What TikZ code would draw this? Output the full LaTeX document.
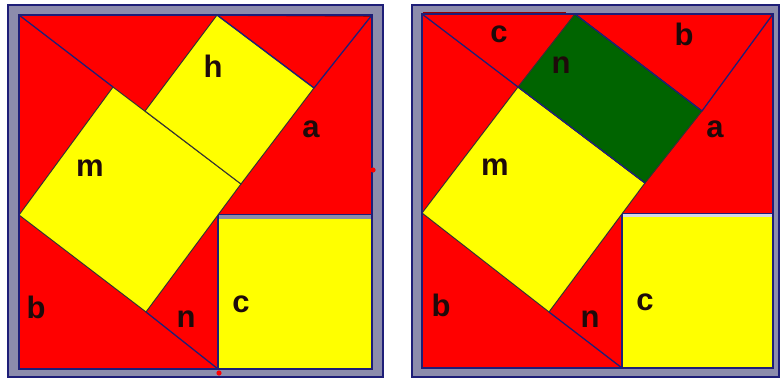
\documentclass[tikz,border=0pt]{standalone}
\usepackage{fontspec}
\setmainfont{Liberation Sans}
\definecolor{fr}{RGB}{140,140,172}
\definecolor{nv}{RGB}{30,30,120}
\definecolor{rd}{RGB}{255,0,0}
\definecolor{yl}{RGB}{255,255,0}
\definecolor{gn}{RGB}{0,100,0}
\definecolor{dr}{RGB}{150,0,0}
\definecolor{pale}{RGB}{215,215,228}
\definecolor{ink}{RGB}{30,10,10}
\tikzset{
 frameband/.style={fill=fr, draw=nv, line width=1.6pt},
 field/.style={fill=rd, draw=nv, line width=1.6pt},
 piece/.style={draw=black!80, line width=1pt, line join=miter},
 seg/.style={draw=nv, line width=1.3pt},
 edgeline/.style={draw=nv, line width=2.2pt},
 redline/.style={draw=dr, line width=1.6pt},
 lab/.style={inner sep=0pt, anchor=base, text=ink, font=\bfseries\fontsize{31}{31}\selectfont},
}
\begin{document}
\begin{tikzpicture}[x=1pt,y=-1pt]
\useasboundingbox[fill=white] (0,0) rectangle (781,380);
% ---------------- left panel ----------------
\coordinate (TL) at (19,15);
\coordinate (TR) at (372,15);
\coordinate (BR) at (372,369);
\coordinate (BL) at (19,369);
\coordinate (M1) at (113,87);
\coordinate (F)  at (241,184);
\coordinate (M3) at (146,312);
\coordinate (M4) at (19,215);
\coordinate (H1) at (217,15);
\coordinate (H2) at (314,88);
\coordinate (H4) at (145,111);
\coordinate (C1) at (218,216);
\coordinate (C2) at (218,369);
\draw[frameband] (8,5) rectangle (383,377);
\draw[field] (TL) rectangle (BR);
\draw[redline] (H1) -- (371,16);
\draw[piece, fill=yl] (M1) -- (F) -- (M3) -- (M4) -- cycle;
\draw[piece, fill=yl] (H1) -- (H2) -- (F) -- (H4) -- cycle;
\draw[seg] (H1) -- (H2);
\draw[draw=nv, line width=0.7pt, fill=fr] (218,214) rectangle (372,219);
\fill[yl] (219,219) rectangle (372,369);
\draw[seg] (TL) -- (M1);
\draw[seg] (TR) -- (H2);
\draw[seg] (M3) -- (C2);
\draw[edgeline] (C1) -- (C2);
\draw[draw=nv, line width=1.6pt] (TL) rectangle (BR);
\fill[rd] (373,170) circle (2.6);
\fill[rd] (219,373) circle (2.6);
\node[lab] (lh) at (213,77) {h};
\node[lab] (lm) at (90,176) {m};
\node[lab] (la) at (311,137) {a};
\node[lab] (lb) at (36,318) {b};
\node[lab] (ln) at (186,327) {n};
\node[lab] (lc) at (241,312) {c};
% ---------------- right panel ----------------
\coordinate (TLr) at (422,14);
\coordinate (TRr) at (773,14);
\coordinate (BRr) at (773,368);
\coordinate (M1r) at (518,87);
\coordinate (Fr)  at (645,183);
\coordinate (M3r) at (549,312);
\coordinate (M4r) at (422,213);
\coordinate (G1) at (575,14);
\coordinate (G2) at (702,111);
\coordinate (C1r) at (622,215);
\coordinate (C2r) at (622,368);
\draw[frameband] (412,5) rectangle (779,377);
\draw[field] (TLr) rectangle (BRr);
\draw[redline] (423,13) -- (566,13);
\draw[piece, fill=yl] (M1r) -- (Fr) -- (M3r) -- (M4r) -- cycle;
\draw[piece, fill=gn] (G1) -- (G2) -- (Fr) -- (M1r) -- cycle;
\draw[seg] (G1) -- (G2);
\draw[seg] (M1r) -- (Fr);
\draw[draw=nv, line width=0.7pt, fill=pale] (622,213) rectangle (773,217);
\fill[yl] (623,217) rectangle (773,368);
\draw[seg] (TLr) -- (M1r);
\draw[seg] (TRr) -- (G2);
\draw[seg] (M3r) -- (C2r);
\draw[edgeline] (C1r) -- (C2r);
\draw[draw=nv, line width=1.6pt] (TLr) rectangle (BRr);
\node[lab] (rc1) at (499,42) {c};
\node[lab] (rb1) at (684,45) {b};
\node[lab] (rn1) at (561,73) {n};
\node[lab] (ra) at (715,137) {a};
\node[lab] (rm) at (495,175) {m};
\node[lab] (rb2) at (441,316) {b};
\node[lab] (rn2) at (590,327) {n};
\node[lab] (rc2) at (645,310) {c};
\end{tikzpicture}
\end{document}
